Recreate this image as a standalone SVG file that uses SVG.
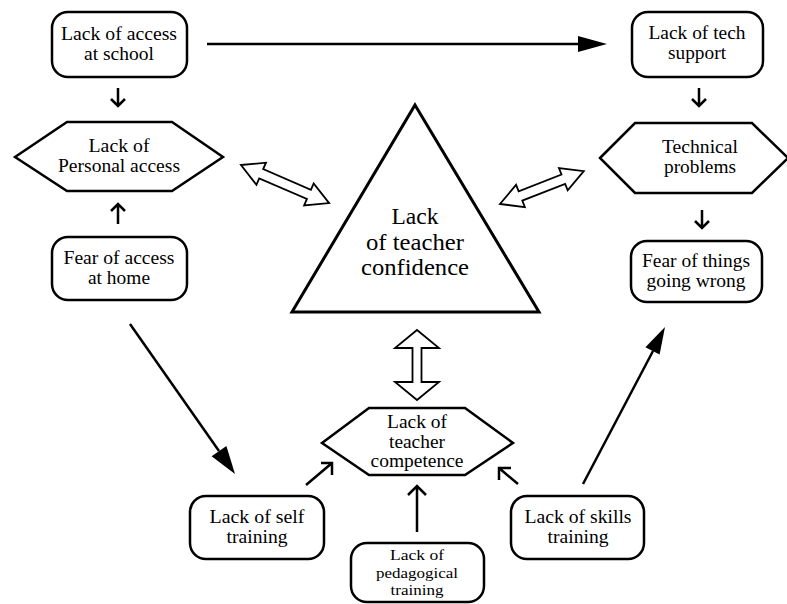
<svg xmlns="http://www.w3.org/2000/svg" width="787" height="604" viewBox="0 0 787 604">
<defs>
<style>
.box{fill:#fff;stroke:#000;stroke-width:2.5}
.hex{fill:#fff;stroke:#000;stroke-width:2.5;stroke-linejoin:miter}
.tri{fill:#fff;stroke:#000;stroke-width:3;stroke-linejoin:miter}
.dbl{fill:#fff;stroke:#000;stroke-width:1.8;stroke-linejoin:miter}
.ln{fill:none;stroke:#000;stroke-width:2.5}
.hd{fill:#000;stroke:none}
text{font-size:18px;fill:#000;text-anchor:middle}
.big{font-size:23px}
.sm{font-size:15.5px}
</style>
</defs>
<rect width="787" height="604" fill="#fff"/>

<g id="connectors">
  <line class="ln" x1="207" y1="44" x2="580" y2="44"/>
  <polygon class="hd" points="607,44 578,36 578,52"/>
  <path class="ln" d="M118,88 V106 M111,99 L118,106 L125,99"/>
  <path class="ln" d="M118,224 V204 M111,211 L118,204 L125,211"/>
  <path class="ln" d="M699,88 V106 M692,99 L699,106 L706,99"/>
  <path class="ln" d="M702,210 V228 M695,221 L702,228 L709,221"/>
  <line class="ln" x1="130" y1="324" x2="219" y2="451"/>
  <polygon class="hd" points="235,474 226.4,445.9 211.6,456.3"/>
  <line class="ln" x1="583" y1="484" x2="653" y2="351"/>
  <polygon class="hd" points="665,327 659.6,354.6 645.4,347.2"/>
  <path class="ln" d="M306,485 L332,463 M321,463 H332 V475"/>
  <path class="ln" d="M417,532 V486 M408,495 L417,486 L426,495"/>
  <path class="ln" d="M518,484 L499,468 M499,480 V468 H511"/>
  <polygon class="dbl" transform="translate(241,165) rotate(23.4)" points="0,0 22,-12 22,-5 74,-5 74,-12 96,0 74,12 74,5 22,5 22,12"/>
  <polygon class="dbl" transform="translate(500,204) rotate(-21.4)" points="0,0 22,-12 22,-5 68,-5 68,-12 90,0 68,12 68,5 22,5 22,12"/>
  <polygon class="dbl" points="417,330 439,348 421.5,348 421.5,382 439,382 417,400 395,382 412.5,382 412.5,348 395,348"/>
</g>

<g font-family="Liberation Serif, Times New Roman, DejaVu Serif, serif">
<g id="n-school">
  <rect class="box" x="52" y="12" width="135" height="65" rx="16"/>
  <text x="119" y="40" textLength="116" lengthAdjust="spacingAndGlyphs">Lack of access</text>
  <text x="119" y="60" textLength="70" lengthAdjust="spacingAndGlyphs">at school</text>
</g>
<g id="n-personal">
  <polygon class="hex" points="15,157 67,122 172,122 223,157 172,191 67,191"/>
  <text x="119" y="152" textLength="61" lengthAdjust="spacingAndGlyphs">Lack of</text>
  <text x="119" y="172" textLength="122" lengthAdjust="spacingAndGlyphs">Personal access</text>
</g>
<g id="n-home">
  <rect class="box" x="52" y="237" width="135" height="63" rx="16"/>
  <text x="119" y="264" textLength="111" lengthAdjust="spacingAndGlyphs">Fear of access</text>
  <text x="119" y="284" textLength="62" lengthAdjust="spacingAndGlyphs">at home</text>
</g>
<g id="n-confidence">
  <polygon class="tri" points="415,105 539,312 292,312"/>
  <text class="big" x="415" y="224" textLength="47" lengthAdjust="spacingAndGlyphs">Lack</text>
  <text class="big" x="415" y="250" textLength="98" lengthAdjust="spacingAndGlyphs">of teacher</text>
  <text class="big" x="415" y="275" textLength="108" lengthAdjust="spacingAndGlyphs">confidence</text>
</g>
<g id="n-techsupport">
  <rect class="box" x="632" y="12" width="131" height="65" rx="16"/>
  <text x="697" y="39" textLength="97" lengthAdjust="spacingAndGlyphs">Lack of tech</text>
  <text x="697" y="59" textLength="58" lengthAdjust="spacingAndGlyphs">support</text>
</g>
<g id="n-technical">
  <polygon class="hex" points="600,158 635,123 752,123 788,158 752,193 635,193"/>
  <text x="700" y="153" textLength="76" lengthAdjust="spacingAndGlyphs">Technical</text>
  <text x="700" y="173" textLength="72" lengthAdjust="spacingAndGlyphs">problems</text>
</g>
<g id="n-wrong">
  <rect class="box" x="631" y="241" width="131" height="61" rx="16"/>
  <text x="696" y="267" textLength="108" lengthAdjust="spacingAndGlyphs">Fear of things</text>
  <text x="696" y="287" textLength="99" lengthAdjust="spacingAndGlyphs">going wrong</text>
</g>
<g id="n-competence">
  <polygon class="hex" points="322,443 369,408 465,408 513,443 465,475 369,475"/>
  <text x="417" y="428" textLength="60" lengthAdjust="spacingAndGlyphs">Lack of</text>
  <text x="417" y="448" textLength="56" lengthAdjust="spacingAndGlyphs">teacher</text>
  <text x="417" y="467" textLength="93" lengthAdjust="spacingAndGlyphs">competence</text>
</g>
<g id="n-self">
  <rect class="box" x="190" y="496" width="134" height="63" rx="16"/>
  <text x="257" y="523" textLength="95" lengthAdjust="spacingAndGlyphs">Lack of self</text>
  <text x="257" y="543" textLength="61" lengthAdjust="spacingAndGlyphs">training</text>
</g>
<g id="n-pedagogical">
  <rect class="box" x="351" y="543" width="133" height="59" rx="16"/>
  <text class="sm" x="417" y="560" textLength="54" lengthAdjust="spacingAndGlyphs">Lack of</text>
  <text class="sm" x="417" y="578" textLength="82" lengthAdjust="spacingAndGlyphs">pedagogical</text>
  <text class="sm" x="417" y="595" textLength="53" lengthAdjust="spacingAndGlyphs">training</text>
</g>
<g id="n-skills">
  <rect class="box" x="511" y="496" width="133" height="63" rx="16"/>
  <text x="578" y="523" textLength="107" lengthAdjust="spacingAndGlyphs">Lack of skills</text>
  <text x="578" y="543" textLength="61" lengthAdjust="spacingAndGlyphs">training</text>
</g>
</g>
</svg>
